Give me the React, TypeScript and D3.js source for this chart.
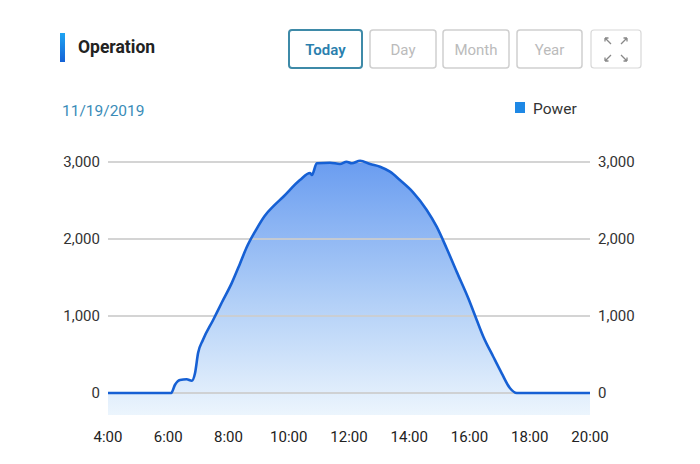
import React from "react";
import * as d3 from "d3";

const hours = [4.0, 6.1, 6.22, 6.39, 6.61, 6.78, 6.89, 6.99, 7.15, 7.49, 7.77, 8.11, 8.38, 8.6, 8.9, 9.2, 9.5, 9.82, 10.37, 10.71, 10.77, 10.93, 11.37, 11.7, 11.92, 12.09, 12.37, 12.7, 13.03, 13.36, 13.69, 14.12, 14.58, 14.91, 15.24, 15.58, 15.96, 16.24, 16.46, 16.79, 17.07, 17.34, 17.57, 20.0];
const power = [0, 0, 104, 169, 178, 160, 260, 519, 688, 948, 1169, 1430, 1680, 1890, 2110, 2300, 2430, 2549, 2766, 2857, 2831, 2983, 2991, 2974, 3004, 2983, 3017, 2974, 2939, 2874, 2766, 2610, 2377, 2160, 1880, 1570, 1230, 948, 731, 471, 256, 65, 0, 0];
const xTicks = [4, 6, 8, 10, 12, 14, 16, 18, 20];
const yTicks = [0, 1000, 2000, 3000];
const buttons = ["Today", "Day", "Month", "Year"];
const dateLabel = "11/19/2019";
const title = "Operation";
const seriesName = "Power";

export default function App() {
  const x = d3.scaleLinear().domain([4, 20]).range([108, 590]);
  const y = d3.scaleLinear().domain([0, 3000]).range([393, 162]);
  const bottom = 415;
  const pts = hours.map((h, i) => [h, power[i]] as [number, number]);
  const line = d3.line<[number, number]>().x(d => x(d[0])).y(d => y(d[1])).curve(d3.curveMonotoneX);
  const area = d3.area<[number, number]>().x(d => x(d[0])).y0(bottom).y1(d => y(d[1])).curve(d3.curveMonotoneX);
  const fmt = d3.format(",");
  const font = "Roboto, 'Noto Sans', sans-serif";
  const btnX = [289, 370, 443, 517];
  const btnW = [73, 66, 66, 65];

  return (
    <svg width={700} height={464} style={{ display: "block", position: "absolute", left: 0, top: 0 }} fontFamily={font}>
      <defs>
        <linearGradient id="fillG" x1="0" y1={160} x2="0" y2={bottom} gradientUnits="userSpaceOnUse">
          <stop offset="0" stopColor="#699cf0" />
          <stop offset="0.55" stopColor="#b1cff7" />
          <stop offset="1" stopColor="#ecf5fd" />
        </linearGradient>
        <linearGradient id="barG" x1="0" y1="0" x2="0" y2="1">
          <stop offset="0" stopColor="#1ea4f2" />
          <stop offset="1" stopColor="#1562d6" />
        </linearGradient>
      </defs>
      <rect width={700} height={464} fill="#fff" />
      <rect x={60} y={33} width={5} height={29} fill="url(#barG)" />
      <text x={78} y={53} fontSize={17.5} fontWeight={700} fill="#222">{title}</text>
      {buttons.map((b, i) => (
        <g key={b}>
          <rect x={btnX[i]} y={30} width={btnW[i]} height={38} rx={3} fill="#fff"
            stroke={i === 0 ? "#3e8aa8" : "#cfcfcf"} strokeWidth={i === 0 ? 2 : 1.5} />
          <text x={btnX[i] + btnW[i] / 2} y={55} textAnchor="middle" fontSize={15}
            fontWeight={i === 0 ? 600 : 400} fill={i === 0 ? "#2a7fae" : "#bbbbbb"}>{b}</text>
        </g>
      ))}
      <rect x={591} y={30} width={50} height={38} rx={3} fill="#fff" stroke="#d8d8d8" strokeWidth={1.2} />
      <g stroke="#888" strokeWidth={1.3} fill="none">
        <path d="M605 38 L611 44 M605 38 L605 41.5 M605 38 L608.5 38" />
        <path d="M627 38 L621 44 M627 38 L627 41.5 M627 38 L623.5 38" />
        <path d="M605 61 L611 55 M605 61 L605 57.5 M605 61 L608.5 61" />
        <path d="M627 61 L621 55 M627 61 L627 57.5 M627 61 L623.5 61" />
      </g>
      <text x={62} y={116} fontSize={15.5} fill="#3a8cb8">{dateLabel}</text>
      <rect x={515} y={102} width={10} height={11} fill="#1e88e5" />
      <text x={533} y={114} fontSize={15.5} fill="#333">{seriesName}</text>

      <path d={area(pts) || ""} fill="url(#fillG)" />
      {yTicks.map(t => (
        <g key={t}>
          <line x1={108} x2={590} y1={y(t)} y2={y(t)} stroke="#cdcdcd" strokeWidth={2} opacity={0.85} />
          <text x={100} y={y(t)} dy="0.35em" textAnchor="end" fontSize={15} fill="#333">{fmt(t)}</text>
          <text x={598} y={y(t)} dy="0.35em" textAnchor="start" fontSize={15} fill="#333">{fmt(t)}</text>
        </g>
      ))}
      <path d={line(pts) || ""} fill="none" stroke="#1660d4" strokeWidth={2.6} strokeLinejoin="round" />
      {xTicks.map(t => (
        <text key={t} x={x(t)} y={437} dy="0.35em" textAnchor="middle" fontSize={15} fill="#222">{`${t}:00`}</text>
      ))}
    </svg>
  );
}
